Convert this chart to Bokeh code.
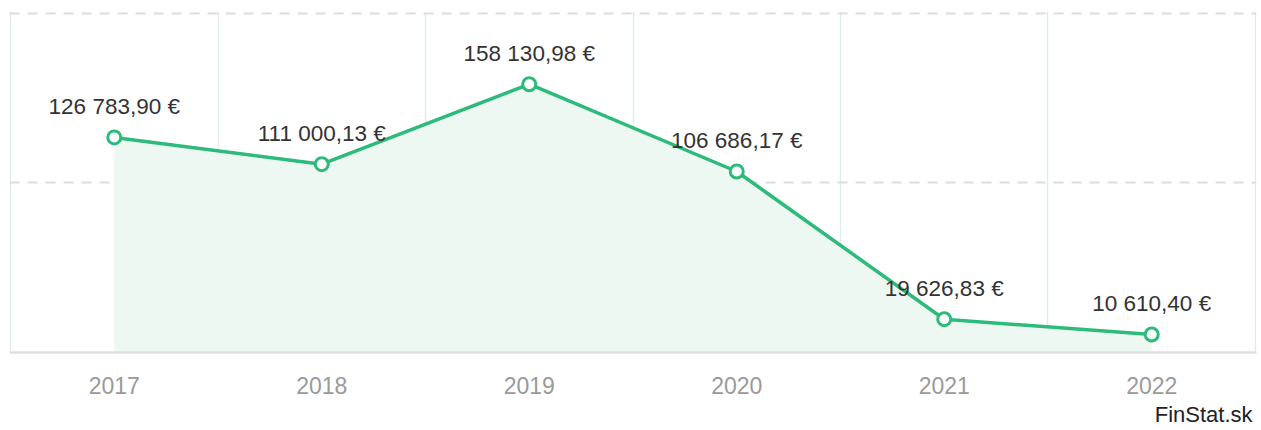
from bokeh.plotting import figure
from bokeh.models import FixedTicker, Title, ColumnDataSource
from bokeh.core.properties import value
from bokeh.embed import file_html
from bokeh.resources import INLINE

years = ["2017", "2018", "2019", "2020", "2021", "2022"]
values = [126783.90, 111000.13, 158130.98, 106686.17, 19626.83, 10610.40]
labels = ["126 783,90 €", "111 000,13 €", "158 130,98 €", "106 686,17 €", "19 626,83 €", "10 610,40 €"]
y_ticks = [0, 100000, 200000]

xs = list(range(len(years)))
src = ColumnDataSource(dict(x=xs, y=values, lab=labels, zero=[0] * len(xs)))

GREEN = "#2dbb7b"
FONT = "Liberation Sans"

p = figure(width=1261, height=430, output_backend="svg", toolbar_location=None,
           x_range=(-0.505, len(years) - 0.495), y_range=(0, 201000),
           min_border_left=9, min_border_right=5, min_border_top=11, min_border_bottom=78)
p.outline_line_color = None
p.background_fill_color = "white"
p.border_fill_color = "white"

p.yaxis.visible = False
p.ygrid.ticker = FixedTicker(ticks=y_ticks[1:])
p.ygrid.grid_line_color = "#dddddd"
p.ygrid.grid_line_width = 2
p.ygrid.grid_line_dash = "10 8"

p.xgrid.ticker = FixedTicker(ticks=[i - 0.5 for i in range(len(years) + 1)])
p.xgrid.grid_line_color = "#e3eced"
p.xgrid.grid_line_width = 1.5

p.xaxis.ticker = FixedTicker(ticks=xs)
p.xaxis.major_label_overrides = {i: y for i, y in enumerate(years)}
p.xaxis.major_tick_line_color = None
p.xaxis.minor_tick_line_color = None
p.xaxis.axis_line_color = "#e0e0e0"
p.xaxis.axis_line_width = 2.5
p.xaxis.major_label_text_font = FONT
p.xaxis.major_label_text_font_size = "23px"
p.xaxis.major_label_text_color = "#9a9a9a"
p.xaxis.major_label_standoff = 18

p.varea(x="x", y1="zero", y2="y", source=src, fill_color="#eef8f3")
p.line(x="x", y="y", source=src, line_color=GREEN, line_width=3.5)
p.scatter(x="x", y="y", source=src, size=13, fill_color="white", line_color=GREEN, line_width=3)
p.text(x="x", y="y", text="lab", source=src, text_align="center", text_baseline="middle",
       y_offset=-31, text_font=value(FONT), text_font_size="22.5px", text_color="#333333")

p.add_layout(Title(text="FinStat.sk", align="right", text_font=FONT, text_font_size="22px",
                   text_font_style="normal", text_color="#222222", standoff=6, offset=4), "below")

open("out.html", "w").write(file_html(p, INLINE))
